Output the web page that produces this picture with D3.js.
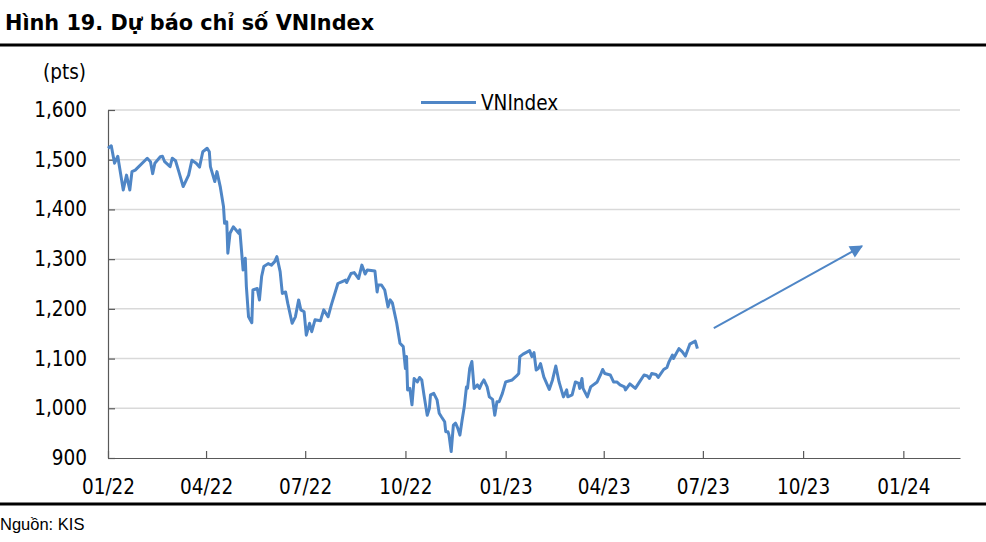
<!DOCTYPE html>
<html><head><meta charset="utf-8">
<script src="https://cdn.jsdelivr.net/npm/d3@7"></script>
<style>
body{margin:0;background:#fff;}
svg{display:block;}
.cf{font-family:"DejaVu Sans Condensed","DejaVu Sans",sans-serif;font-stretch:condensed;}
</style></head>
<body>
<svg id="chart" width="986" height="542"></svg>
<script>
const title = "Hình 19. Dự báo chỉ số VNIndex";
const source = "Nguồn: KIS";
const unitLabel = "(pts)";
const seriesName = "VNIndex";
const yTicks = [900, 1000, 1100, 1200, 1300, 1400, 1500, 1600];
const xTickLabels = ["01/22","04/22","07/22","10/22","01/23","04/23","07/23","10/23","01/24"];
const xTickDates = ["2022-01-01","2022-04-01","2022-07-01","2022-10-01","2023-01-01","2023-04-01","2023-07-01","2023-10-01","2024-01-01"];
const xDomain = ["2022-01-01","2024-02-22"];
const dates = ["2022-01-01","2022-01-04","2022-01-07","2022-01-10","2022-01-11","2022-01-15","2022-01-18","2022-01-21","2022-01-23","2022-01-26",
"2022-02-06","2022-02-09","2022-02-11","2022-02-13","2022-02-18","2022-02-20","2022-02-22","2022-02-27","2022-03-01","2022-03-04",
"2022-03-07","2022-03-11","2022-03-16","2022-03-19","2022-03-23","2022-03-26","2022-03-29","2022-04-02","2022-04-04","2022-04-05",
"2022-04-09","2022-04-11","2022-04-14","2022-04-17","2022-04-18","2022-04-20","2022-04-21","2022-04-23","2022-04-26","2022-05-01",
"2022-05-02","2022-05-05","2022-05-07","2022-05-08","2022-05-10","2022-05-13","2022-05-14","2022-05-18","2022-05-20","2022-05-22",
"2022-05-24","2022-05-28","2022-05-31","2022-06-03","2022-06-05","2022-06-08","2022-06-10","2022-06-13","2022-06-15","2022-06-19",
"2022-06-22","2022-06-25","2022-06-27","2022-06-30","2022-07-02","2022-07-05","2022-07-07","2022-07-10","2022-07-15","2022-07-18",
"2022-07-22","2022-07-25","2022-07-31","2022-08-04","2022-08-07","2022-08-08","2022-08-12","2022-08-15","2022-08-19","2022-08-22",
"2022-08-25","2022-08-27","2022-09-03","2022-09-05","2022-09-06","2022-09-09","2022-09-12","2022-09-15","2022-09-17","2022-09-19",
"2022-09-23","2022-09-26","2022-09-29","2022-10-01","2022-10-02","2022-10-03","2022-10-05","2022-10-07","2022-10-09","2022-10-12",
"2022-10-14","2022-10-16","2022-10-18","2022-10-21","2022-10-23","2022-10-24","2022-10-27","2022-10-30","2022-11-01","2022-11-03",
"2022-11-06","2022-11-07","2022-11-09","2022-11-10","2022-11-12","2022-11-14","2022-11-16","2022-11-18","2022-11-20","2022-11-22",
"2022-11-24","2022-11-26","2022-11-27","2022-11-29","2022-12-01","2022-12-02","2022-12-03","2022-12-06","2022-12-08","2022-12-10",
"2022-12-12","2022-12-15","2022-12-17","2022-12-20","2022-12-22","2022-12-24","2022-12-26","2022-12-29","2023-01-01","2023-01-07",
"2023-01-11","2023-01-13","2023-01-14","2023-01-17","2023-01-23","2023-01-25","2023-01-27","2023-01-29","2023-01-31","2023-02-02",
"2023-02-05","2023-02-10","2023-02-13","2023-02-16","2023-02-19","2023-02-23","2023-02-26","2023-02-27","2023-03-03","2023-03-06",
"2023-03-09","2023-03-10","2023-03-12","2023-03-13","2023-03-17","2023-03-20","2023-03-26","2023-03-29","2023-03-31","2023-04-02",
"2023-04-07","2023-04-10","2023-04-13","2023-04-16","2023-04-20","2023-04-21","2023-04-25","2023-04-30","2023-05-03","2023-05-08",
"2023-05-11","2023-05-13","2023-05-15","2023-05-19","2023-05-21","2023-05-26","2023-05-29","2023-05-31","2023-06-03","2023-06-04",
"2023-06-09","2023-06-12","2023-06-15","2023-06-19","2023-06-24","2023-06-26"];
const values = [1523,1528,1493,1507,1493,1439,1469,1439,1476,1479,
1503,1496,1472,1493,1506,1507,1496,1486,1503,1498,
1476,1446,1469,1499,1493,1485,1516,1523,1516,1486,
1456,1476,1446,1406,1372,1375,1312,1352,1365,1352,
1359,1278,1302,1245,1184,1172,1238,1241,1218,1265,
1285,1291,1288,1295,1305,1275,1231,1234,1211,1171,
1184,1218,1198,1194,1147,1171,1154,1178,1176,1198,
1184,1208,1251,1255,1258,1253,1271,1273,1261,1288,
1270,1278,1276,1234,1248,1248,1238,1204,1218,1212,
1171,1131,1124,1080,1104,1037,1040,1007,1060,1053,
1062,1057,1027,986,1000,1027,1030,1017,990,983,
973,953,953,946,913,966,970,960,946,976,
1003,1043,1040,1080,1094,1067,1040,1047,1040,1050,
1057,1043,1023,1018,986,1013,1013,1030,1053,1057,
1065,1070,1104,1109,1116,1104,1112,1077,1080,1090,
1063,1038,1057,1085,1053,1023,1037,1023,1027,1053,
1050,1040,1060,1040,1023,1043,1053,1067,1078,1070,
1067,1053,1053,1047,1043,1037,1049,1040,1050,1067,
1065,1060,1070,1068,1062,1078,1082,1094,1107,1100,
1120,1114,1105,1129,1135,1120];
const arrowFrom = {date:"2023-07-11", value:1161};
const arrowTo = {date:"2023-11-24", value:1326};

const parse = d3.timeParse("%Y-%m-%d");
const data = dates.map((d,i)=>({date:parse(d), value:values[i]}));
const svg = d3.select("#chart");
const blue = "#4f86c6";
const L = 108, R = 960, T = 110, B = 458;
const fs = 20.5;

const x = d3.scaleTime().domain(xDomain.map(parse)).range([L, R]);
const y = d3.scaleLinear().domain([900, 1600]).range([B, T]);

// title + rules
svg.append("text").attr("x",5).attr("y",30).attr("font-family","DejaVu Sans").attr("font-weight","bold")
  .attr("font-size",20.8).attr("fill","#000").text(title);
svg.append("line").attr("x1",0).attr("x2",986).attr("y1",45).attr("y2",45).attr("stroke","#000").attr("stroke-width",3);
svg.append("line").attr("x1",0).attr("x2",986).attr("y1",504).attr("y2",504).attr("stroke","#000").attr("stroke-width",3);
svg.append("text").attr("x",0).attr("y",530).attr("font-family","Liberation Sans").attr("font-size",16.5).attr("fill","#000").text(source);

// gridlines
svg.append("g").selectAll("line").data(yTicks.filter(v=>v>900)).join("line")
  .attr("x1",L).attr("x2",R).attr("y1",d=>y(d)).attr("y2",d=>y(d))
  .attr("stroke","#d9d9d9").attr("stroke-width",1.5);

// axes
const yAxis = d3.axisLeft(y).tickValues(yTicks).tickFormat(d3.format(",")).tickSizeInner(-7).tickSizeOuter(0).tickPadding(21);
const gy = svg.append("g").attr("transform",`translate(${L},0)`).call(yAxis);
const xAxis = d3.axisBottom(x).tickValues(xTickDates.map(parse)).tickFormat((d,i)=>xTickLabels[i]).tickSizeInner(-7).tickSizeOuter(0).tickPadding(21);
const gx = svg.append("g").attr("transform",`translate(0,${B})`).call(xAxis);
[gx, gy].forEach(g=>{
  g.attr("font-family",null).attr("font-size",null);
  g.select(".domain").attr("stroke","#595959").attr("stroke-width",1.2);
  g.selectAll(".tick line").attr("stroke","#595959").attr("stroke-width",1.2);
  g.selectAll(".tick text").attr("class","cf").attr("font-size",fs).attr("fill","#000");
});

svg.append("text").attr("class","cf").attr("x",86).attr("y",79).attr("text-anchor","end")
  .attr("font-size",fs).attr("fill","#000").text(unitLabel);

// line
const line = d3.line().x(d=>x(d.date)).y(d=>y(d.value));
svg.append("path").datum(data).attr("d",line).attr("fill","none").attr("stroke",blue)
  .attr("stroke-width",3).attr("stroke-linejoin","round");

// legend
svg.append("line").attr("x1",421).attr("x2",476).attr("y1",102.5).attr("y2",102.5).attr("stroke",blue).attr("stroke-width",3);
svg.append("text").attr("class","cf").attr("x",481).attr("y",110).attr("font-size",fs).attr("fill","#000").text(seriesName);

// arrow
const defs = svg.append("defs");
defs.append("marker").attr("id","ah").attr("viewBox","0 0 10 10").attr("refX",9).attr("refY",5)
  .attr("markerWidth",7.5).attr("markerHeight",6.5).attr("markerUnits","strokeWidth").attr("orient","auto")
  .append("path").attr("d","M0,0 L10,5 L0,10 z").attr("fill",blue);
svg.append("line").attr("x1",x(parse(arrowFrom.date))).attr("y1",y(arrowFrom.value))
  .attr("x2",x(parse(arrowTo.date))).attr("y2",y(arrowTo.value))
  .attr("stroke",blue).attr("stroke-width",2).attr("marker-end","url(#ah)");
</script>
</body></html>
